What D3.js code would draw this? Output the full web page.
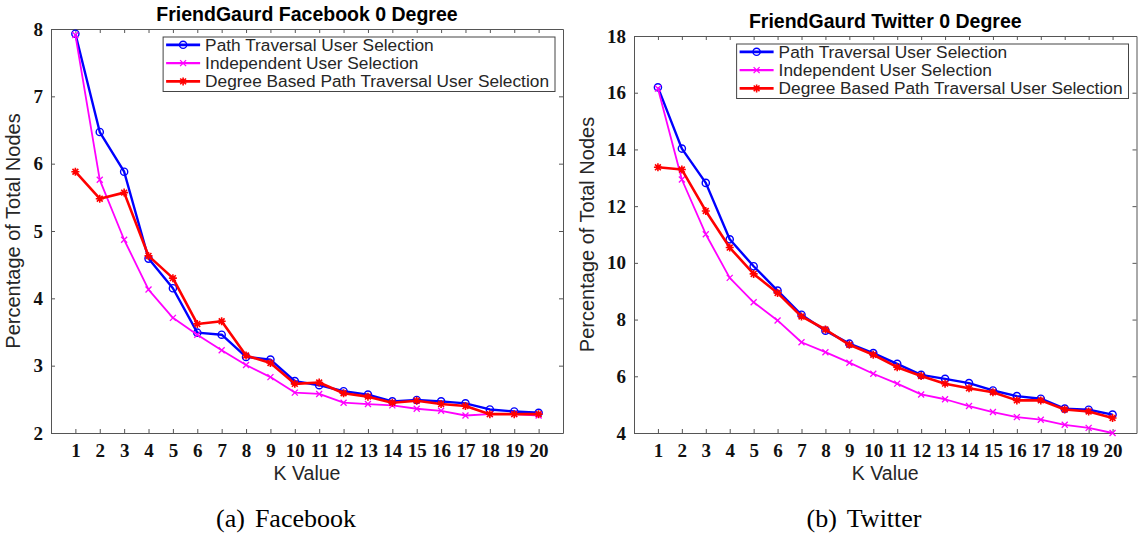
<!DOCTYPE html>
<html>
<head>
<meta charset="utf-8">
<script src="https://cdn.jsdelivr.net/npm/d3@7"></script>
<style>
  body { margin: 0; background: #fff; }
  svg { display: block; }
</style>
</head>
<body>
<div id="chart"></div>
<script>
// K values on the x axis
var kValues = [1, 2, 3, 4, 5, 6, 7, 8, 9, 10, 11, 12, 13, 14, 15, 16, 17, 18, 19, 20];

var seriesNames = [
  "Path Traversal User Selection",
  "Independent User Selection",
  "Degree Based Path Traversal User Selection"
];

// Facebook, percentage of total nodes
var fbPathTraversal = [7.93, 6.47, 5.88, 4.59, 4.15, 3.49, 3.46, 3.13, 3.09, 2.77, 2.71, 2.62, 2.57, 2.47, 2.49, 2.47, 2.44, 2.35, 2.32, 2.30];
var fbIndependent   = [7.91, 5.76, 4.87, 4.13, 3.71, 3.46, 3.23, 3.01, 2.83, 2.60, 2.58, 2.45, 2.43, 2.41, 2.36, 2.33, 2.26, 2.28, 2.28, 2.26];
var fbDegreeBased   = [5.88, 5.48, 5.57, 4.63, 4.30, 3.62, 3.66, 3.15, 3.04, 2.73, 2.75, 2.59, 2.54, 2.45, 2.48, 2.43, 2.40, 2.28, 2.28, 2.28];

// Twitter, percentage of total nodes
var twPathTraversal = [16.19, 14.03, 12.82, 10.83, 9.88, 9.02, 8.17, 7.61, 7.15, 6.82, 6.44, 6.05, 5.91, 5.76, 5.50, 5.30, 5.21, 4.86, 4.82, 4.65];
var twIndependent   = [16.15, 12.94, 11.01, 9.47, 8.61, 7.97, 7.20, 6.85, 6.48, 6.09, 5.74, 5.36, 5.19, 4.95, 4.74, 4.56, 4.47, 4.29, 4.18, 4.00];
var twDegreeBased   = [13.37, 13.29, 11.83, 10.54, 9.61, 8.94, 8.11, 7.65, 7.11, 6.76, 6.32, 6.01, 5.74, 5.58, 5.44, 5.15, 5.15, 4.83, 4.76, 4.53];

var fbYTicks = [2, 3, 4, 5, 6, 7, 8];
var twYTicks = [4, 6, 8, 10, 12, 14, 16, 18];

var colours = ["#0000ff", "#ff00ff", "#ff0000"];
var widths = [2.4, 1.8, 2.6];
var markers = ["circle", "x", "star"];

var W = 1138, H = 533;
var axisCol = "#555";
var textCol = "#262626";

var svg = d3.select("#chart").append("svg")
  .attr("width", W)
  .attr("height", H);

function markerPath(type) {
  if (type == "x") {
    var s = 3;
    return "M" + (-s) + "," + (-s) + "L" + s + "," + s + "M" + (-s) + "," + s + "L" + s + "," + (-s);
  }
  var r = 4, d = 2.9;
  return "M" + (-r) + ",0H" + r + "M0," + (-r) + "V" + r +
    "M" + (-d) + "," + (-d) + "L" + d + "," + d + "M" + (-d) + "," + d + "L" + d + "," + (-d);
}

function drawMarkers(g, pts, i) {
  if (markers[i] == "circle") {
    g.selectAll("circle.m" + i)
      .data(pts)
      .enter().append("circle")
      .attr("class", "m" + i)
      .attr("cx", function(d) { return d[0]; })
      .attr("cy", function(d) { return d[1]; })
      .attr("r", 3.6)
      .attr("fill", "none")
      .attr("stroke", colours[i])
      .attr("stroke-width", 1.4);
  } else {
    g.selectAll("path.m" + i)
      .data(pts)
      .enter().append("path")
      .attr("class", "m" + i)
      .attr("transform", function(d) { return "translate(" + d[0] + "," + d[1] + ")"; })
      .attr("d", markerPath(markers[i]))
      .attr("fill", "none")
      .attr("stroke", colours[i])
      .attr("stroke-width", markers[i] == "star" ? 1.6 : 1.3);
  }
}

function drawPanel(p) {
  var g = svg.append("g");

  var x = d3.scaleLinear().domain([0, 21]).range([p.left, p.right]);
  var y = d3.scaleLinear().domain(p.yDomain).range([p.bottom, p.top]);

  // axes with inward ticks, MATLAB style box
  g.append("g")
    .attr("transform", "translate(0," + p.bottom + ")")
    .call(d3.axisBottom(x).tickValues(kValues).tickSizeInner(-4).tickSizeOuter(0).tickPadding(11));
  g.append("g")
    .attr("transform", "translate(0," + p.top + ")")
    .call(d3.axisTop(x).tickValues(kValues).tickSizeInner(-4).tickSizeOuter(0).tickFormat(""));
  g.append("g")
    .attr("transform", "translate(" + p.left + ",0)")
    .call(d3.axisLeft(y).tickValues(p.yTicks).tickFormat(d3.format("d"))
      .tickSizeInner(-4).tickSizeOuter(0).tickPadding(8));
  g.append("g")
    .attr("transform", "translate(" + p.right + ",0)")
    .call(d3.axisRight(y).tickValues(p.yTicks).tickSizeInner(-4).tickSizeOuter(0).tickFormat(""));

  g.selectAll(".domain, .tick line").attr("stroke", axisCol).attr("stroke-width", 1);
  g.selectAll(".tick text")
    .attr("fill", "#111")
    .style("font-family", "'Liberation Serif', serif")
    .style("font-weight", "bold")
    .style("font-size", "19px");

  // series
  var line = d3.line()
    .x(function(d, i) { return x(kValues[i]); })
    .y(function(d) { return y(d); });

  p.series.forEach(function(vals, i) {
    g.append("path")
      .datum(vals)
      .attr("d", line)
      .attr("fill", "none")
      .attr("stroke", colours[i])
      .attr("stroke-width", widths[i])
      .attr("stroke-linejoin", "round");
    var pts = vals.map(function(v, j) { return [x(kValues[j]), y(v)]; });
    drawMarkers(g, pts, i);
  });

  // title
  g.append("text")
    .attr("x", (p.left + p.right) / 2)
    .attr("y", p.top - 8)
    .attr("text-anchor", "middle")
    .style("font-family", "'Liberation Sans', Arial, sans-serif")
    .style("font-weight", "bold")
    .style("font-size", "19.5px")
    .attr("fill", "#000")
    .text(p.title);

  // axis labels
  g.append("text")
    .attr("x", (p.left + p.right) / 2)
    .attr("y", 480)
    .attr("text-anchor", "middle")
    .style("font-family", "'Liberation Sans', Arial, sans-serif")
    .style("font-size", "19.5px")
    .attr("fill", textCol)
    .text("K Value");

  g.append("text")
    .attr("transform", "translate(" + (p.ylabelX + 7) + "," + ((p.top + p.bottom) / 2) + ") rotate(-90)")
    .attr("text-anchor", "middle")
    .style("font-family", "'Liberation Sans', Arial, sans-serif")
    .style("font-size", "20px")
    .attr("fill", textCol)
    .text("Percentage of Total Nodes");

  // legend
  var lg = g.append("g");
  var labels = lg.selectAll("text")
    .data(seriesNames)
    .enter().append("text")
    .style("font-family", "'Liberation Sans', Arial, sans-serif")
    .style("font-size", "17.3px")
    .attr("fill", textCol)
    .text(function(d) { return d; });
  var tw = d3.max(labels.nodes(), function(n) { return n.getComputedTextLength(); });
  var bw = tw + 42 + 6, bh = 54.5;
  var bx = p.right - 8 - bw, by = p.top + 8;
  lg.insert("rect", "text")
    .attr("x", bx).attr("y", by)
    .attr("width", bw).attr("height", bh)
    .attr("fill", "#fff")
    .attr("stroke", "#444")
    .attr("stroke-width", 1);
  labels
    .attr("x", bx + 42)
    .attr("y", function(d, i) { return by + 7.8 + i * 18.3; })
    .attr("dy", "0.35em");
  seriesNames.forEach(function(name, i) {
    var ly = by + 7.8 + i * 18.3;
    lg.append("line")
      .attr("x1", bx + 3).attr("x2", bx + 37)
      .attr("y1", ly).attr("y2", ly)
      .attr("stroke", colours[i])
      .attr("stroke-width", widths[i] + 0.3);
    drawMarkers(lg, [[bx + 20, ly]], i);
  });

  // sub-figure caption
  var cap = g.append("text")
    .attr("x", p.captionX)
    .attr("y", 527)
    .attr("text-anchor", "middle")
    .style("font-family", "'Liberation Serif', serif")
    .style("font-size", "26px")
    .attr("fill", "#000");
  cap.append("tspan").text(p.captionTag);
  cap.append("tspan").attr("dx", 10).text(p.caption);
}

drawPanel({
  left: 51, right: 563, top: 29, bottom: 433,
  yDomain: [2, 8], yTicks: fbYTicks,
  series: [fbPathTraversal, fbIndependent, fbDegreeBased],
  title: "FriendGaurd Facebook 0 Degree",
  captionTag: "(a)", caption: "Facebook", captionX: 286,
  ylabelX: 13
});

drawPanel({
  left: 634, right: 1136.5, top: 36, bottom: 433,
  yDomain: [4, 18], yTicks: twYTicks,
  series: [twPathTraversal, twIndependent, twDegreeBased],
  title: "FriendGaurd Twitter 0 Degree",
  captionTag: "(b)", caption: "Twitter", captionX: 864,
  ylabelX: 587
});
</script>
</body>
</html>
